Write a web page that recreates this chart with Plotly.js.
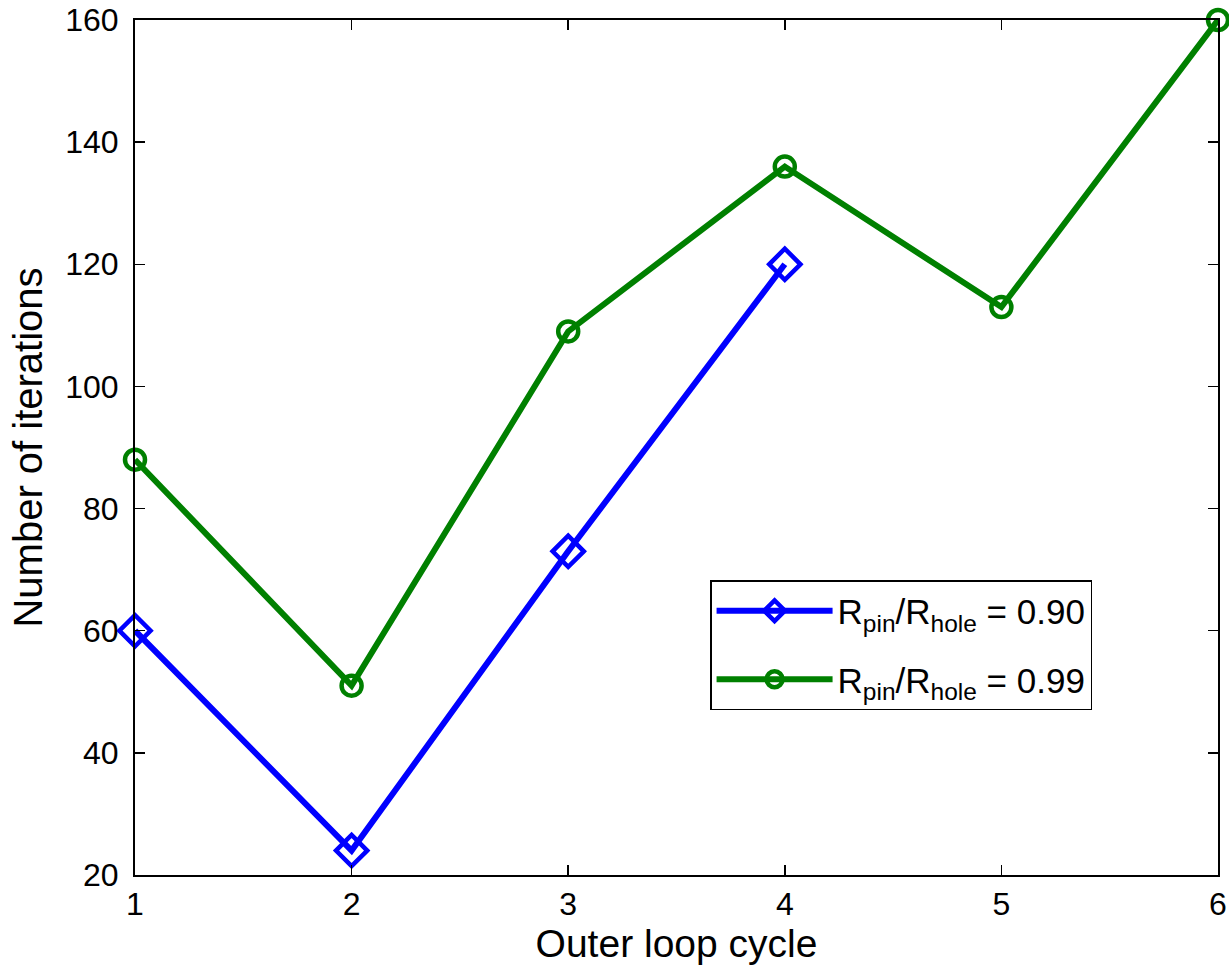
<!DOCTYPE html>
<html>
<head>
<meta charset="utf-8">
<script src="https://cdn.plot.ly/plotly-3.0.1.min.js"></script>
<style>html,body{margin:0;padding:0;background:#fff;}#chart{width:1229px;height:973px;}</style>
</head>
<body>
<div id="chart"></div>
<script>
const cyclesA = [1, 2, 3, 4];
const itersA = [60, 24, 73, 120];
const cyclesB = [1, 2, 3, 4, 5, 6];
const itersB = [88, 51, 109, 136, 113, 160];
const nameA = 'R<sub>pin</sub>/R<sub>hole</sub> = 0.90';
const nameB = 'R<sub>pin</sub>/R<sub>hole</sub> = 0.99';
const xTicks = [1, 2, 3, 4, 5, 6];
const yTicks = [20, 40, 60, 80, 100, 120, 140, 160];

const font = 'Liberation Sans, Arial, Helvetica, sans-serif';

const traces = [
  {
    x: cyclesA, y: itersA, name: nameA, legendgroup: 'a', type: 'scatter', mode: 'lines+markers',
    line: {color: '#0000ff', width: 6},
    marker: {symbol: 'diamond-open', size: 24, color: '#0000ff', line: {color: '#0000ff', width: 4.5}},
    cliponaxis: false
  },
  {
    x: cyclesB, y: itersB, name: nameB, legendgroup: 'b', type: 'scatter', mode: 'lines+markers',
    line: {color: '#008000', width: 6},
    marker: {symbol: 'circle-open', size: 20, color: '#008000', line: {color: '#008000', width: 4.5}},
    cliponaxis: false
  }
];

const axisCommon = {
  showgrid: false, zeroline: false, showline: true, linecolor: '#000', linewidth: 2,
  mirror: 'ticks', ticks: 'inside', ticklen: 10, tickwidth: 1.5, tickcolor: '#000',
  tickfont: {family: font, size: 32, color: '#000'}
};

const layout = {
  width: 1229, height: 973,
  paper_bgcolor: '#fff', plot_bgcolor: '#fff',
  margin: {l: 135, r: 11, t: 20, b: 98},
  showlegend: true,
  legend: {
    x: 0.531, y: 0.345, xanchor: 'left', yanchor: 'top',
    bordercolor: '#000', borderwidth: 1.5, bgcolor: '#fff',
    font: {family: font, size: 35, color: '#000'},
    itemwidth: 116,
    tracegroupgap: 20
  },
  xaxis: Object.assign({}, axisCommon, {
    range: [1, 6], tickvals: xTicks, ticktext: xTicks.map(String),
    title: {text: 'Outer loop cycle', font: {family: font, size: 39, color: '#000'}, standoff: 4}
  }),
  yaxis: Object.assign({}, axisCommon, {
    range: [20, 160], tickvals: yTicks, ticktext: yTicks.map(String),
    ticklabelstandoff: 8,
    title: {text: 'Number of iterations', font: {family: font, size: 40, color: '#000'}, standoff: 10}
  })
};

Plotly.newPlot('chart', traces, layout, {displayModeBar: false, staticPlot: true});
</script>
</body>
</html>
